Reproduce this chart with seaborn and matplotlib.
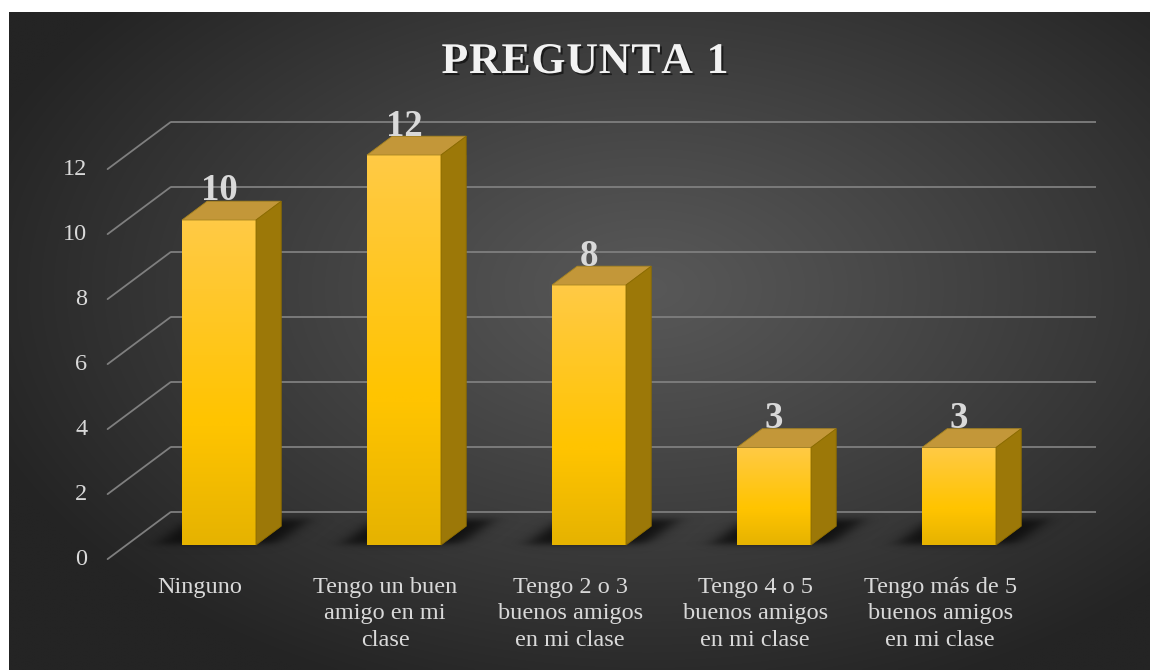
import numpy as np
import pandas as pd
import matplotlib
matplotlib.use("Agg")
import matplotlib.pyplot as plt
import matplotlib.patheffects as pe
from matplotlib.patches import Polygon
from matplotlib.colors import to_rgb
import seaborn as sns

# ---- data -------------------------------------------------------------
categories = [
    "Ninguno",
    "Tengo un buen amigo en mi clase",
    "Tengo 2 o 3 buenos amigos en mi clase",
    "Tengo 4 o 5 buenos amigos en mi clase",
    "Tengo más de 5 buenos amigos en mi clase",
]
tick_labels = [
    "Ninguno",
    "Tengo un buen\namigo en mi\nclase",
    "Tengo 2 o 3\nbuenos amigos\nen mi clase",
    "Tengo 4 o 5\nbuenos amigos\nen mi clase",
    "Tengo más de 5\nbuenos amigos\nen mi clase",
]
values = [10, 12, 8, 3, 3]
y_ticks = [0, 2, 4, 6, 8, 10, 12]
title = "PREGUNTA 1"

df = pd.DataFrame({"categoria": categories, "respuestas": values})

# ---- style ------------------------------------------------------------
sns.set_theme(style="white")
plt.rcParams["font.family"] = ["Liberation Serif", "DejaVu Serif"]
TEXT = "#d9d9d9"
GRID = "#7f7f7f"

W, H = 1150, 670
fig = plt.figure(figsize=(W / 100, H / 100), dpi=100, facecolor="white")

# dark panel with a soft radial gradient
bg = fig.add_axes([9 / W, 0, 1 - 9 / W, 1 - 12 / H], zorder=0)
gx, gy = np.meshgrid(np.linspace(0, 1, 400), np.linspace(1, 0, 260))
r = np.sqrt(((gx - 0.56) / 0.62) ** 2 + ((gy - 0.58) / 0.66) ** 2)
t = np.clip(r, 0, 1) ** 1.1
c_in, c_out = np.array(to_rgb("#585858")), np.array(to_rgb("#242424"))
img = c_in[None, None, :] * (1 - t[..., None]) + c_out[None, None, :] * t[..., None]
bg.imshow(img, extent=[0, 1, 0, 1], aspect="auto", interpolation="bilinear")
bg.set_axis_off()

# main plotting area: front plane of the bars
ax = fig.add_axes([126.5 / W, 125 / H, 925 / W, 390 / H], zorder=1)
ax.set_facecolor("none")

sns.barplot(data=df, x="categoria", y="respuestas", width=0.4, color="#ffc000",
            saturation=1, ax=ax, zorder=3, edgecolor="#b08c00", linewidth=0.6)

XLIM, YLIM = (-0.5, 4.5), (0, 12)
# depth of the floor expressed in data units
DX, DY = 0.3405, 1.446
back_x, back_y = 0.7 * DX, 0.7 * DY      # back wall
front_x, front_y = -0.3 * DX, -0.3 * DY  # front edge of floor
bx, by = 0.4 * DX, 0.4 * DY              # bar depth
skew = DX / DY

# gridlines: back wall plus left diagonal
for v in y_ticks:
    ax.plot([XLIM[0] + back_x, XLIM[1] + back_x], [v + back_y, v + back_y],
            color=GRID, lw=1.3, zorder=1, clip_on=False, solid_capstyle="butt")
    ax.plot([XLIM[0] + front_x, XLIM[0] + back_x], [v + front_y, v + back_y],
            color=GRID, lw=1.3, zorder=1, clip_on=False)
    ax.text(XLIM[0] + front_x - 0.11, v + front_y, f"{v}", ha="right", va="center",
            fontsize=17.5, color=TEXT, clip_on=False)


def vgrad(top, bottom, n=64):
    a, b = np.array(to_rgb(top)), np.array(to_rgb(bottom))
    s = np.linspace(0, 1, n)[:, None]
    return (a * (1 - s) + b * s)[:, None, :]


def soft_band(z, lo, hi, s):
    return 0.25 * (1 + np.tanh((z - lo) / s)) * (1 + np.tanh((hi - z) / s))


front_grad = np.concatenate([vgrad("#ffca45", "#ffc400", 40),
                             vgrad("#ffc400", "#e6b300", 24)], axis=0)

for patch, v in zip(ax.patches, values):
    x0 = patch.get_x()
    w = patch.get_width()
    x1 = x0 + w

    # blurred floor shadow following the floor's slant
    ex = [x0 - 0.35, x1 + 0.5, -0.4, by + 0.7]
    SX, SY = np.meshgrid(np.linspace(ex[0], ex[1], 220), np.linspace(ex[3], ex[2], 70))
    U = SX - np.clip(SY, 0, None) * skew
    alpha = 0.9 * soft_band(U, x0 - 0.14, x1 + 0.1, 0.06) * soft_band(SY, 0.02, by + 0.2, 0.12)
    sh = np.zeros(SX.shape + (4,))
    sh[..., :3] = 0.05
    sh[..., 3] = alpha
    ax.imshow(sh, extent=ex, aspect="auto", zorder=2, interpolation="bilinear",
              clip_on=False)

    # front face gradient
    im = ax.imshow(front_grad, extent=[x0, x1, 0, v], aspect="auto", zorder=3.1,
                   interpolation="bilinear")
    im.set_clip_path(patch)

    # top face
    top = Polygon([(x0, v), (x1, v), (x1 + bx, v + by), (x0 + bx, v + by)],
                  closed=True, facecolor="#c39739", edgecolor="#a78420", lw=0.6,
                  zorder=3.2, clip_on=False)
    ax.add_patch(top)

    # right side face
    side = Polygon([(x1, 0), (x1 + bx, by), (x1 + bx, v + by), (x1, v)],
                   closed=True, facecolor="#9c7808", edgecolor="#8a6a00", lw=0.6,
                   zorder=3.2, clip_on=False)
    ax.add_patch(side)
    sim = ax.imshow(vgrad("#a9841f", "#927000"), extent=[x1, x1 + bx, 0, v + by],
                    aspect="auto", zorder=3.15, interpolation="bilinear")
    sim.set_clip_path(side)

    # value label
    ax.text(x0 + w / 2, v + 0.6, f"{v}", ha="center", va="baseline",
            fontsize=26.5, fontweight="bold", color=TEXT, zorder=5, clip_on=False)

# category labels along the front edge of the floor
for i, lab in enumerate(tick_labels):
    ax.text(i + front_x, -0.98, lab, ha="center", va="top", fontsize=17.5,
            color=TEXT, linespacing=1.35, clip_on=False)

ax.set_xlim(*XLIM)
ax.set_ylim(*YLIM)
ax.set_axis_off()

# title with widened letter spacing
renderer = fig.canvas.get_renderer()
title_kw = dict(fontsize=31.5, fontweight="bold", color="#f2f2f2", va="baseline",
                ha="left",
                path_effects=[pe.SimplePatchShadow(offset=(1.5, -1.5),
                                                   shadow_rgbFace="black", alpha=0.55),
                              pe.Normal()])
widths = []
for ch in title:
    probe = fig.text(0, 0, ch if ch != " " else "n", **title_kw)
    bb = probe.get_window_extent(renderer)
    widths.append(bb.width * (0.5 if ch == " " else 1.0))
    probe.remove()
span = 287.0
gap = (span - sum(widths)) / (len(title) - 1)
xpos = 585.0 - span / 2
for ch, wd in zip(title, widths):
    if ch != " ":
        fig.text(xpos / W, 1 - 73 / H, ch, **title_kw)
    xpos += wd + gap

fig.savefig("out.png", dpi=100, facecolor="white")
